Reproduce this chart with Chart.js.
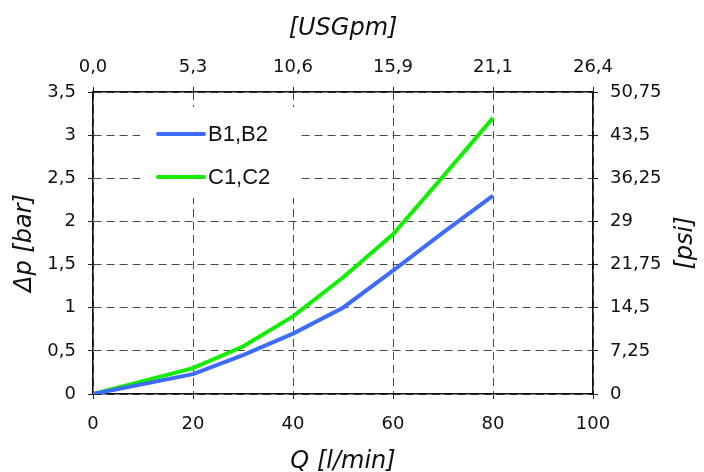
<!DOCTYPE html>
<html>
<head>
<meta charset="utf-8">
<script src="https://cdn.jsdelivr.net/npm/chart.js@4"></script>
<style>
  body { margin: 0; background: #fff; }
</style>
</head>
<body>
<canvas id="myChart" width="704" height="472"></canvas>
<script>
// data
const flowLpm = [0, 20, 30, 40, 50, 60, 70, 80];
const b1b2Bar = [0, 0.23, 0.45, 0.70, 1.00, 1.43, 1.87, 2.30];
const c1c2Bar = [0, 0.30, 0.55, 0.90, 1.35, 1.85, 2.52, 3.20];

const barTicks = ["0", "0,5", "1", "1,5", "2", "2,5", "3", "3,5"];
const psiTicks = ["0", "7,25", "14,5", "21,75", "29", "36,25", "43,5", "50,75"];
const usgpmTicks = ["0,0", "5,3", "10,6", "15,9", "21,1", "26,4"];

const tickFont = { family: "DejaVu Sans", size: 18 };
const titleFont = { family: "DejaVu Sans", size: 24, style: "italic", lineHeight: 1 };
const gridColor = "#4a4a4a";
const gridDash = [8, 5];

initChart();

function toPoints(xs, ys) {
  return xs.map((x, i) => ({ x: x, y: ys[i] }));
}

function initChart() {
  const ctx = document.getElementById("myChart").getContext("2d");

  // legend box sitting inside the plot, plus the right title that reads bottom-up
  const extras = {
    id: "extras",
    afterDatasetsDraw(chart) {
      const c = chart.ctx;
      const a = chart.chartArea;
      c.save();
      c.fillStyle = "#fff";
      c.fillRect(a.left + 47, a.top + 15, 157, 91);
      chart.data.datasets.forEach((ds, i) => {
        const y = a.top + 42 + i * 43;
        c.strokeStyle = ds.borderColor;
        c.lineWidth = 4;
        c.lineCap = "round";
        c.beginPath();
        c.moveTo(a.left + 65, y);
        c.lineTo(a.left + 111, y);
        c.stroke();
        c.fillStyle = "#111";
        c.font = "22px 'Liberation Sans'";
        c.textBaseline = "middle";
        c.fillText(ds.label, a.left + 115, y + 1);
      });
      c.translate(686, (a.top + a.bottom) / 2);
      c.rotate(-Math.PI / 2);
      c.textAlign = "center";
      c.textBaseline = "middle";
      c.font = "italic 24px 'DejaVu Sans'";
      c.fillStyle = "#111";
      c.fillText("[psi]", 0, 0);
      c.restore();
    },
  };

  window.chart = new Chart(ctx, {
    type: "line",
    data: {
      datasets: [
        {
          label: "B1,B2",
          data: toPoints(flowLpm, b1b2Bar),
          borderColor: "#3d6cfb",
          borderWidth: 4,
          pointRadius: 0,
          tension: 0,
          xAxisID: "x",
          yAxisID: "y",
        },
        {
          label: "C1,C2",
          data: toPoints(flowLpm, c1c2Bar),
          borderColor: "#12ee00",
          borderWidth: 4,
          pointRadius: 0,
          tension: 0,
          xAxisID: "x",
          yAxisID: "y",
        },
      ],
    },
    options: {
      responsive: false,
      animation: false,
      layout: { padding: 0 },
      plugins: { legend: { display: false }, tooltip: { enabled: false } },
      scales: {
        x: {
          type: "linear",
          position: "bottom",
          min: 0,
          max: 100,
          ticks: { stepSize: 20, font: tickFont, color: "#111", padding: 15, maxRotation: 0 },
          grid: { color: gridColor, lineWidth: 1, tickLength: 5, tickColor: "#222" },
          border: { color: "#111", width: 1.6, dash: gridDash },
          title: { display: true, text: "Q [l/min]", font: titleFont, color: "#111", padding: { top: 0, bottom: -2 } },
          afterFit(scale) { scale.height = 78; },
        },
        x2: {
          type: "linear",
          position: "top",
          min: 0,
          max: 100,
          ticks: {
            stepSize: 20, font: tickFont, color: "#111", padding: 9, maxRotation: 0,
            callback: (v, i) => usgpmTicks[i],
          },
          grid: { drawOnChartArea: false, tickLength: 5, tickColor: "#222" },
          border: { color: "#111", width: 1.6 },
          title: { display: true, text: "[USGpm]", font: titleFont, color: "#111", padding: { top: 17, bottom: 0 } },
          afterFit(scale) { scale.height = 92; },
        },
        y: {
          position: "left",
          min: 0,
          max: 3.5,
          ticks: {
            stepSize: 0.5, font: tickFont, color: "#111", padding: 12,
            callback: (v, i) => barTicks[i],
          },
          grid: { color: gridColor, lineWidth: 1, tickLength: 5, tickColor: "#222" },
          border: { color: "#111", width: 1.6, dash: gridDash },
          title: { display: true, text: "\u0394p [bar]", font: titleFont, color: "#111", padding: { top: 13, bottom: 0 } },
          afterFit(scale) { scale.width = 93; },
        },
        y2: {
          position: "right",
          min: 0,
          max: 3.5,
          ticks: {
            stepSize: 0.5, font: tickFont, color: "#111", padding: 12,
            callback: (v, i) => psiTicks[i],
          },
          grid: { drawOnChartArea: false, tickLength: 5, tickColor: "#222" },
          border: { color: "#111", width: 1.6 },
          afterFit(scale) { scale.width = 111; },
        },
      },
    },
    plugins: [extras],
  });
}
</script>
</body>
</html>
